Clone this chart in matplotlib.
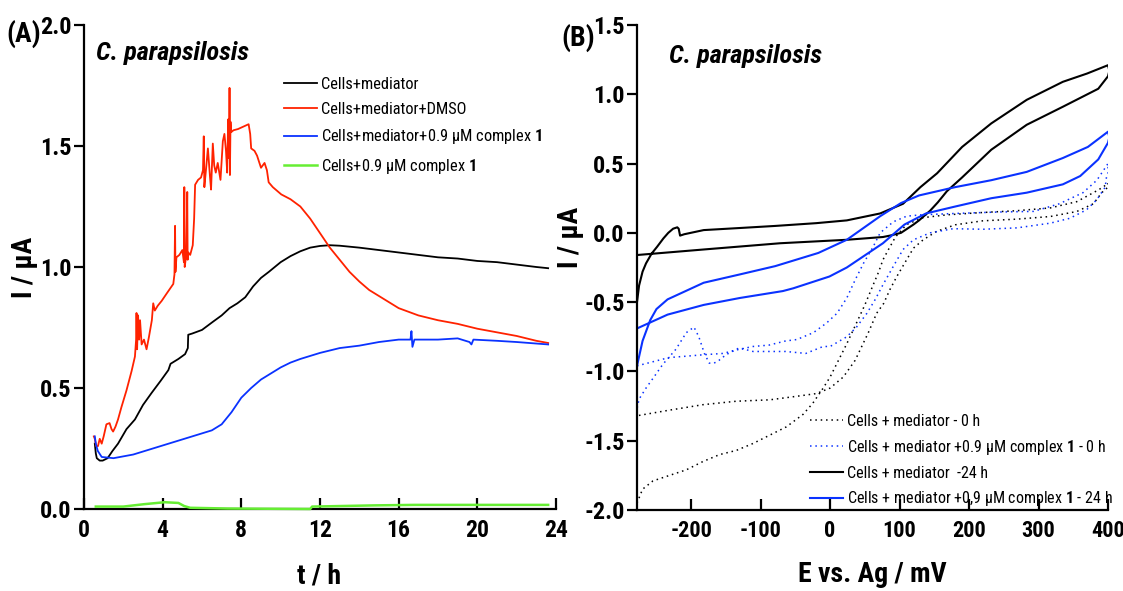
import matplotlib
matplotlib.use("Agg")
import matplotlib.pyplot as plt

FONT = 'Roboto Condensed'
plt.rcParams['font.family'] = [FONT, 'DejaVu Sans']
plt.rcParams['axes.unicode_minus'] = False
plt.rcParams['mathtext.fontset'] = 'custom'
plt.rcParams['mathtext.rm'] = FONT
plt.rcParams['mathtext.bf'] = FONT + ':bold'

# ---- panel A: current vs time ----
black_t = [0.55, 0.6, 0.65, 0.8, 0.95, 1.2, 1.45, 1.73, 2.16, 2.59, 3.0, 3.44, 3.9, 4.29, 4.4,
           4.8, 5.14, 5.28, 5.3, 5.5, 6.0, 6.56, 7.0, 7.4, 7.8, 8.2, 8.6, 9.0, 9.4, 10.0, 10.5,
           11.0, 11.5, 12.0, 12.5, 13.0, 14.0, 15.0, 16.0, 17.0, 18.0, 19.0, 20.0, 21.0, 22.0,
           23.0, 23.6]
black_i = [0.27, 0.23, 0.21, 0.20, 0.20, 0.21, 0.24, 0.27, 0.33, 0.37, 0.43, 0.48, 0.53, 0.574, 0.60,
           0.62, 0.64, 0.665, 0.72, 0.725, 0.74, 0.774, 0.80, 0.83, 0.85, 0.875, 0.92, 0.955, 0.98, 1.02, 1.045,
           1.065, 1.08, 1.087, 1.09, 1.088, 1.08, 1.07, 1.06, 1.05, 1.04, 1.035, 1.025, 1.02, 1.01,
           1.0, 0.995]

red_t = [0.5, 0.55, 0.62, 0.71, 0.8, 0.9, 1.0, 1.14, 1.3, 1.4, 1.48, 1.6, 1.73, 1.9, 2.16, 2.42,
         2.59, 2.65, 2.67, 2.7, 2.75, 2.8, 2.85, 2.93, 3.05, 3.18, 3.3, 3.45, 3.52, 3.6, 3.75, 3.95,
         4.2, 4.54, 4.6, 4.63, 4.65, 4.7, 4.85, 5.0, 5.08, 5.1, 5.12, 5.2, 5.25, 5.27, 5.3, 5.4,
         5.53, 5.6, 5.65, 5.8, 5.95, 6.05, 6.09, 6.12, 6.2, 6.3, 6.4, 6.46, 6.55, 6.62, 6.7, 6.8,
         6.94, 7.06, 7.14, 7.22, 7.28, 7.33, 7.38, 7.4, 7.42, 7.45, 7.48, 7.6, 7.83, 8.1, 8.37, 8.45,
         8.5, 8.67, 8.8, 9.0, 9.18, 9.3, 9.39, 9.6, 10.03, 10.5, 11.0, 11.5, 12.0, 12.5, 13.0, 13.5,
         14.0, 14.5, 15.0, 16.0, 17.0, 18.0, 19.0, 20.0, 21.0, 22.0, 23.0, 23.6]
red_i = [0.30, 0.29, 0.26, 0.26, 0.29, 0.27, 0.30, 0.35, 0.355, 0.33, 0.32, 0.34, 0.37, 0.42, 0.49, 0.57,
         0.63, 0.70, 0.81, 0.66, 0.80, 0.70, 0.78, 0.68, 0.70, 0.66, 0.71, 0.78, 0.85, 0.82, 0.84, 0.86,
         0.89, 0.93, 0.97, 1.17, 0.98, 1.04, 1.05, 1.07, 1.02, 1.33, 1.00, 1.05, 1.31, 1.03, 1.06, 1.05,
         1.09, 1.20, 1.34, 1.36, 1.37, 1.40, 1.54, 1.33, 1.40, 1.49, 1.38, 1.32, 1.51, 1.42, 1.39, 1.43,
         1.36, 1.52, 1.55, 1.48, 1.39, 1.61, 1.45, 1.74, 1.38, 1.60, 1.557, 1.565, 1.57, 1.58, 1.59, 1.55,
         1.49, 1.48, 1.46, 1.41, 1.43, 1.40, 1.35, 1.33, 1.30, 1.28, 1.25, 1.20, 1.14, 1.08, 1.03, 0.98,
         0.94, 0.905, 0.88, 0.83, 0.80, 0.78, 0.765, 0.745, 0.73, 0.715, 0.695, 0.686]

blue_t = [0.55, 0.6, 0.7, 0.9, 1.5, 2.5, 3.5, 4.5, 5.5, 6.5, 7.0, 7.5, 8.0, 8.5, 9.0, 9.5, 10.0,
          10.5, 11.0, 12.0, 13.0, 14.0, 15.0, 16.0, 16.6, 16.65, 16.7, 16.8, 18.0, 19.0, 19.6,
          19.7, 19.8, 21.0, 22.0, 23.6]
blue_i = [0.30, 0.27, 0.24, 0.215, 0.21, 0.225, 0.25, 0.275, 0.30, 0.325, 0.35, 0.40, 0.46, 0.50,
          0.535, 0.56, 0.585, 0.605, 0.62, 0.645, 0.665, 0.675, 0.69, 0.70, 0.70, 0.735, 0.67, 0.70,
          0.70, 0.705, 0.69, 0.68, 0.70, 0.695, 0.69, 0.68]

green_t = [0.6, 2.0, 3.07, 4.1, 4.8, 5.1, 5.4, 7.3, 11.5, 11.6, 14.8, 16.8, 23.6]
green_i = [0.01, 0.01, 0.02, 0.028, 0.025, 0.012, 0.005, 0.002, 0.0, 0.01, 0.015, 0.017, 0.017]

# ---- panel B: cyclic voltammograms ----
cv_b24_e = [-278, -275, -270, -265, -257, -249, -240, -233, -226, -220, -218, -216, -210, -182, -130,
            -79, -20, 24, 72, 105, 130, 154, 190, 232, 283, 335, 370, 400, 402, 400, 386, 335, 283,
            232, 190, 168, 155, 144, 128, 120, 102, 86, 76, 24, -72, -182, -278]
cv_b24_i = [-0.50, -0.38, -0.28, -0.22, -0.15, -0.10, -0.04, 0.0, 0.03, 0.04, 0.03, -0.02, -0.01, 0.02, 0.035,
            0.05, 0.07, 0.09, 0.14, 0.21, 0.33, 0.43, 0.62, 0.79, 0.96, 1.09, 1.15, 1.21, 1.17, 1.13, 1.04, 0.91, 0.78,
            0.60, 0.40, 0.30, 0.22, 0.16, 0.09, 0.06, 0.0, -0.02, -0.03, -0.05, -0.075, -0.12, -0.16]

cv_c24_e = [-278, -270, -259, -250, -234, -182, -130, -79, -17, 24, 72, 102, 128, 180, 232, 283, 335,
            371, 400, 402, 400, 386, 360, 335, 283, 232, 180, 138, 107, 76, 24, -1, -53, -68, -130,
            -182, -234, -278]
cv_c24_i = [-0.96, -0.78, -0.63, -0.55, -0.48, -0.36, -0.30, -0.24, -0.145, -0.05, 0.12, 0.215, 0.27,
            0.33, 0.38, 0.44, 0.54, 0.62, 0.73, 0.69, 0.65, 0.53, 0.41, 0.35, 0.29, 0.25, 0.19, 0.14,
            0.06, -0.075, -0.25, -0.315, -0.40, -0.42, -0.47, -0.52, -0.59, -0.69]

cv_b0_e = [-278, -270, -255, -231, -207, -183, -159, -135, -111, -87, -63, -39, -25, -10, 0, 10, 24,
           38, 50, 62, 70, 76, 84, 94, 110, 134, 168, 220, 269, 317, 355, 379, 393, 400,
           400, 391, 379, 355, 317, 269, 220, 180, 153, 134, 120, 110, 96, 86, 77, 67, 55, 36, 19,
           0, -20, -49, -87, -135, -183, -232, -278]
cv_b0_i = [-1.95, -1.85, -1.79, -1.75, -1.71, -1.65, -1.60, -1.57, -1.52, -1.46, -1.40, -1.31, -1.23,
           -1.12, -1.04, -0.94, -0.80, -0.65, -0.52, -0.375, -0.28, -0.195, -0.12, -0.03, 0.06, 0.11,
           0.13, 0.147, 0.16, 0.18, 0.225, 0.29, 0.33, 0.36,
           0.33, 0.29, 0.21, 0.154, 0.118, 0.099, 0.087, 0.058, 0.01, -0.05, -0.11, -0.195, -0.315,
           -0.41, -0.51, -0.58, -0.72, -0.92, -1.04, -1.12, -1.16, -1.18, -1.205, -1.215, -1.24,
           -1.28, -1.32]

cv_c0_e = [-278, -255, -232, -207, -183, -154, -135, -111, -88, -64, -48, -24, -5, 10, 24, 36, 48,
           62, 72, 91, 110, 130, 180, 240, 293, 330, 364, 384, 396, 400,
           400, 398, 396, 384, 369, 345, 317, 269, 220, 177, 144, 120, 105, 90, 76, 65, 53, 38, 24,
           0, -10, -35, -64, -88, -111, -131, -150, -160, -167, -174, -181, -189, -196, -207, -222,
           -241, -255, -265, -275, -278]
cv_c0_i = [-0.96, -0.93, -0.90, -0.89, -0.88, -0.87, -0.845, -0.82, -0.81, -0.78, -0.77, -0.72, -0.65,
           -0.58, -0.47, -0.34, -0.22, -0.10, 0.0, 0.08, 0.12, 0.13, 0.14, 0.15, 0.155, 0.21, 0.29,
           0.38, 0.47, 0.50,
           0.43, 0.41, 0.33, 0.24, 0.166, 0.105, 0.07, 0.036, 0.026, 0.03, 0.0, -0.05, -0.12, -0.25,
           -0.375, -0.48, -0.58, -0.68, -0.75, -0.82, -0.82, -0.87, -0.856, -0.856, -0.856, -0.83,
           -0.88, -0.92, -0.94, -0.94, -0.87, -0.75, -0.68, -0.72, -0.84, -0.95, -1.05, -1.12,
           -1.20, -1.27]

RED = '#ff2200'
BLUE = '#0a32ff'
GREEN = '#66ee33'

W, H = 1123, 591
fig = plt.figure(figsize=(W / 100, H / 100), dpi=100)


def px(x, y):
    return x / W, 1 - y / H


def style_axes(ax, xsize=17):
    ax.spines['top'].set_visible(False)
    ax.spines['right'].set_visible(False)
    ax.spines['left'].set_linewidth(1.6)
    ax.spines['bottom'].set_linewidth(1.6)
    ax.tick_params(axis='y', direction='out', length=7, width=1.6, labelsize=17.5, pad=2)
    ax.tick_params(axis='x', direction='in', length=8, width=1.6, labelsize=xsize, pad=7)
    for lab in ax.get_xticklabels() + ax.get_yticklabels():
        lab.set_fontweight('bold')


ax1 = fig.add_axes([84 / W, 1 - 509 / H, (556 - 84) / W, (509 - 25) / H])
ax1.plot(black_t, black_i, color='black', lw=1.3, label='Cells+mediator')
ax1.plot(red_t, red_i, color=RED, lw=1.3, label='Cells+mediator+DMSO')
ax1.plot(blue_t, blue_i, color=BLUE, lw=1.3, label=r'Cells+mediator+0.9 μM complex $\mathbf{1}$')
ax1.plot(green_t, green_i, color=GREEN, lw=1.8, zorder=3, clip_on=False,
         label=r'Cells+0.9 μM complex $\mathbf{1}$')
ax1.set_xlim(0, 24)
ax1.set_ylim(0, 2.0)
ax1.set_xticks([0, 4, 8, 12, 16, 20, 24])
ax1.set_yticks([0.0, 0.5, 1.0, 1.5, 2.0])
ax1.set_yticklabels(['0.0', '0.5', '1.0', '1.5', '2.0'])
style_axes(ax1)
ax1.legend(loc='upper left', bbox_to_anchor=(0.424, 0.893), frameon=False, fontsize=11.8,
           handlelength=2.0, handletextpad=0.25, labelspacing=0.63, borderpad=0, borderaxespad=0)

ax2 = fig.add_axes([637 / W, 1 - 510 / H, (1108 - 637) / W, (510 - 25) / H])
ax2.plot(cv_b0_e, cv_b0_i, color='black', lw=1.1, ls=(0, (1, 2.5)), label='Cells + mediator - 0 h')
ax2.plot(cv_c0_e, cv_c0_i, color=BLUE, lw=1.1, ls=(0, (1, 2.5)),
         label=r'Cells + mediator +0.9 μM complex $\mathbf{1}$ - 0 h')
ax2.plot(cv_b24_e, cv_b24_i, color='black', lw=1.5, label='Cells + mediator  -24 h')
ax2.plot(cv_c24_e, cv_c24_i, color=BLUE, lw=1.5,
         label=r'Cells + mediator +0,9 μM complex $\mathbf{1}$ - 24 h')
ax2.set_xlim(-278, 400)
ax2.set_ylim(-2.0, 1.5)
ax2.set_xticks([-200, -100, 0, 100, 200, 300, 400])
ax2.set_yticks([-2.0, -1.5, -1.0, -0.5, 0.0, 0.5, 1.0, 1.5])
ax2.set_yticklabels(['-2.0', '-1.5', '-1.0', '-0.5', '0.0', '0.5', '1.0', '1.5'])
style_axes(ax2, xsize=16)
ax2.legend(loc='upper left', bbox_to_anchor=(0.367, 0.198), frameon=False, fontsize=11.5,
           handlelength=2.1, handletextpad=0.25, labelspacing=0.55, borderpad=0, borderaxespad=0)

# panel letters, titles and axis labels
fig.text(*px(24, 34), '(A)', fontsize=20, fontweight='bold', ha='center', va='center')
fig.text(*px(578, 38), '(B)', fontsize=20, fontweight='bold', ha='center', va='center')
fig.text(*px(96, 53), 'C. parapsilosis', fontsize=19, fontweight='bold', fontstyle='italic',
         ha='left', va='center')
fig.text(*px(669, 56), 'C. parapsilosis', fontsize=19, fontweight='bold', fontstyle='italic',
         ha='left', va='center')
fig.text(*px(25, 267), 'I / μA', fontsize=20, fontweight='bold', rotation=90, ha='center', va='center')
fig.text(*px(571, 237), 'I / μA', fontsize=20, fontweight='bold', rotation=90, ha='center', va='center')
fig.text(*px(319, 576), 't / h', fontsize=20, fontweight='bold', ha='center', va='center')
fig.text(*px(872, 575), 'E vs. Ag / mV', fontsize=20, fontweight='bold', ha='center', va='center')

fig.savefig('out.png', dpi=100)
